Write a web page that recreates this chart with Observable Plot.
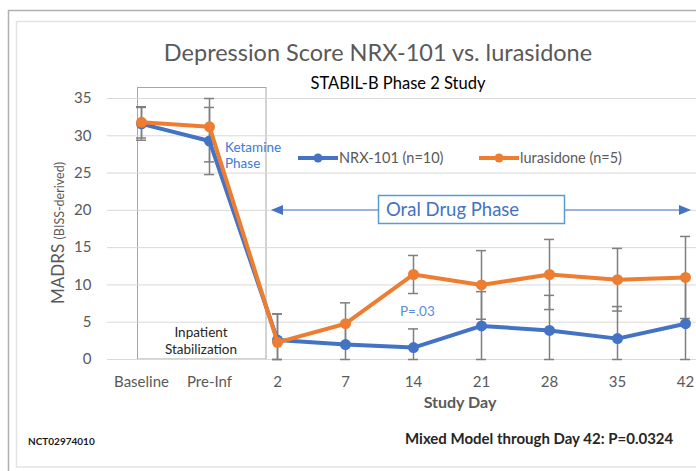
<!DOCTYPE html>
<html>
<head>
<meta charset="utf-8">
<script src="https://cdn.jsdelivr.net/npm/d3@7"></script>
<script src="https://cdn.jsdelivr.net/npm/@observablehq/plot@0.6"></script>
<style>
  html, body { margin: 0; padding: 0; background: #fff; }
  #chart svg { display: block; font-family: Lato, "Open Sans", sans-serif; }
</style>
</head>
<body>
<div id="chart"></div>
<script>
const categories = ["Baseline", "Pre-Inf", "2", "7", "14", "21", "28", "35", "42"];
const nrxMean  = [31.6, 29.3, 2.6, 2.0, 1.6, 4.5, 3.9, 2.8, 4.8];
const nrxErr   = [2.2, 4.5, 3.5, 2.8, 2.5, 4.6, 4.7, 4.3, 6.2];
const luraMean = [31.8, 31.2, 2.3, 4.8, 11.4, 10.0, 11.4, 10.7, 11.0];
const luraErr  = [2.1, 4.7, 3.8, 2.8, 2.55, 4.6, 4.7, 4.2, 5.5];
const seriesNames = ["NRX-101 (n=10)", "lurasidone (n=5)"];
const seriesColors = ["#4472C4", "#ED7D31"];
const yTicks = [0, 5, 10, 15, 20, 25, 30, 35];
const yMax = 35;

const rows = [];
[[nrxMean, nrxErr], [luraMean, luraErr]].forEach(([m, e], s) => {
  categories.forEach((c, i) => {
    rows.push({
      series: seriesNames[s], cat: c, v: m[i],
      lo: Math.max(0, m[i] - e[i]), hi: Math.min(yMax, m[i] + e[i])
    });
  });
});
const nrxRows = rows.filter(d => d.series === seriesNames[0]);
const luraRows = rows.filter(d => d.series === seriesNames[1]);

const W = 696, H = 471;
const gray = "#595959";
const errColor = "#7f7f7f";
const capInset = 29; // band is 68px wide -> 10px caps

const plot = Plot.plot({
  width: W, height: H,
  marginLeft: 107, marginRight: 0, marginTop: 98, marginBottom: 112,
  style: { fontFamily: "Lato, 'Open Sans', sans-serif", background: "transparent" },
  x: { type: "band", domain: categories, range: [107, 719], padding: 0 },
  y: { domain: [0, yMax] },
  marks: [
    Plot.gridY(yTicks, { stroke: "#d9d9d9", strokeOpacity: 1, strokeWidth: 1 }),
    Plot.axisY(yTicks, { tickSize: 0, tickPadding: 16, fontSize: 15, fill: gray, label: null }),
    Plot.axisX({ tickSize: 0, tickPadding: 17, fontSize: 15, fill: gray, label: null }),
    Plot.ruleX(rows, { x: "cat", y1: "lo", y2: "hi", stroke: errColor, strokeWidth: 1.5 }),
    Plot.tickY(rows, { x: "cat", y: "lo", stroke: errColor, strokeWidth: 1.5, insetLeft: capInset, insetRight: capInset }),
    Plot.tickY(rows, { x: "cat", y: "hi", stroke: errColor, strokeWidth: 1.5, insetLeft: capInset, insetRight: capInset }),
    Plot.line(nrxRows, { x: "cat", y: "v", stroke: seriesColors[0], strokeWidth: 4 }),
    Plot.dot(nrxRows, { x: "cat", y: "v", r: 5.5, fill: seriesColors[0] }),
    Plot.line(luraRows, { x: "cat", y: "v", stroke: seriesColors[1], strokeWidth: 4 }),
    Plot.dot(luraRows, { x: "cat", y: "v", r: 5.5, fill: seriesColors[1] })
  ]
});

document.getElementById("chart").appendChild(plot);
const svg = d3.select(plot);
const font = "Lato, 'Open Sans', sans-serif";

// chart-area borders (drawn behind)
const bg = svg.insert("g", ":first-child");
bg.append("rect").attr("x", 8.5).attr("y", 10.5).attr("width", 700).attr("height", 470)
  .attr("fill", "none").attr("stroke", "#b0b0b0").attr("stroke-width", 1.5);
bg.append("rect").attr("x", 16.5).attr("y", 21.5).attr("width", 700).attr("height", 445.5)
  .attr("fill", "none").attr("stroke", "#e3e3e3").attr("stroke-width", 1.5);

// inpatient stabilization box
bg.append("rect").attr("x", 137.5).attr("y", 87.5).attr("width", 128.5).attr("height", 271.5)
  .attr("fill", "none").attr("stroke", "#a6a6a6").attr("stroke-width", 1);

const ann = svg.append("g").attr("font-family", font).attr("text-anchor", "start");

// titles
ann.append("text").attr("x", 378).attr("y", 61).attr("text-anchor", "middle")
  .attr("font-size", 23.5).attr("fill", gray).text("Depression Score NRX-101 vs. lurasidone");
ann.append("text").attr("x", 398).attr("y", 89).attr("text-anchor", "middle")
  .attr("font-size", 16.5).attr("fill", "#000").text("STABIL-B Phase 2 Study");

// y label
const yl = ann.append("text").attr("transform", "translate(64,233) rotate(-90)")
  .attr("text-anchor", "middle").attr("fill", gray);
yl.append("tspan").attr("font-size", 17).text("MADRS ");
yl.append("tspan").attr("font-size", 12.5).text("(BISS-derived)");

// x label
ann.append("text").attr("x", 460).attr("y", 408).attr("text-anchor", "middle")
  .attr("font-size", 16).attr("font-weight", "bold").attr("fill", gray).text("Study Day");

// footers
ann.append("text").attr("x", 28).attr("y", 445).attr("font-size", 10).attr("font-weight", "bold")
  .attr("fill", "#1a1a1a").text("NCT02974010");
ann.append("text").attr("x", 405).attr("y", 444).attr("font-size", 15).attr("font-weight", "bold")
  .attr("fill", "#262626").text("Mixed Model through Day 42: P=0.0324");

// legend
const leg = [[298, 338, seriesColors[0], seriesNames[0]], [479, 519, seriesColors[1], seriesNames[1]]];
leg.forEach(([x1, x2, c, t]) => {
  ann.append("line").attr("x1", x1).attr("x2", x2).attr("y1", 158).attr("y2", 158)
    .attr("stroke", c).attr("stroke-width", 4);
  ann.append("circle").attr("cx", (x1 + x2) / 2).attr("cy", 158).attr("r", 4.5).attr("fill", c);
  ann.append("text").attr("x", x2 + 1).attr("y", 163).attr("font-size", 14.5).attr("fill", gray).text(t);
});

// ketamine phase
ann.append("text").attr("x", 225).attr("y", 152).attr("font-size", 13.5).attr("fill", "#3b7ad6").text("Ketamine");
ann.append("text").attr("x", 225).attr("y", 168).attr("font-size", 13.5).attr("fill", "#3b7ad6").text("Phase");

// inpatient stabilization
ann.append("text").attr("x", 201).attr("y", 337).attr("text-anchor", "middle").attr("font-size", 13.5)
  .attr("fill", "#262626").text("Inpatient");
ann.append("text").attr("x", 201).attr("y", 354).attr("text-anchor", "middle").attr("font-size", 13.5)
  .attr("fill", "#262626").text("Stabilization");

// oral drug phase arrow
const ay = 210;
ann.append("line").attr("x1", 280).attr("x2", 682).attr("y1", ay).attr("y2", ay)
  .attr("stroke", "#7f9fdb").attr("stroke-width", 1.5);
ann.append("path").attr("d", `M271,${ay} L283,${ay - 5} L283,${ay + 5} Z`).attr("fill", "#4472C4");
ann.append("path").attr("d", `M691,${ay} L679,${ay - 5} L679,${ay + 5} Z`).attr("fill", "#4472C4");
ann.append("rect").attr("x", 378.5).attr("y", 195.5).attr("width", 186).attr("height", 28)
  .attr("fill", "#fff").attr("stroke", "#5B9BD5").attr("stroke-width", 1.5);
ann.append("text").attr("x", 386).attr("y", 216).attr("font-size", 18.5).attr("fill", "#4472C4")
  .text("Oral Drug Phase");

// P value
ann.append("text").attr("x", 400).attr("y", 316).attr("font-size", 13.5).attr("fill", "#5b8bd9").text("P=.03");
</script>
</body>
</html>
